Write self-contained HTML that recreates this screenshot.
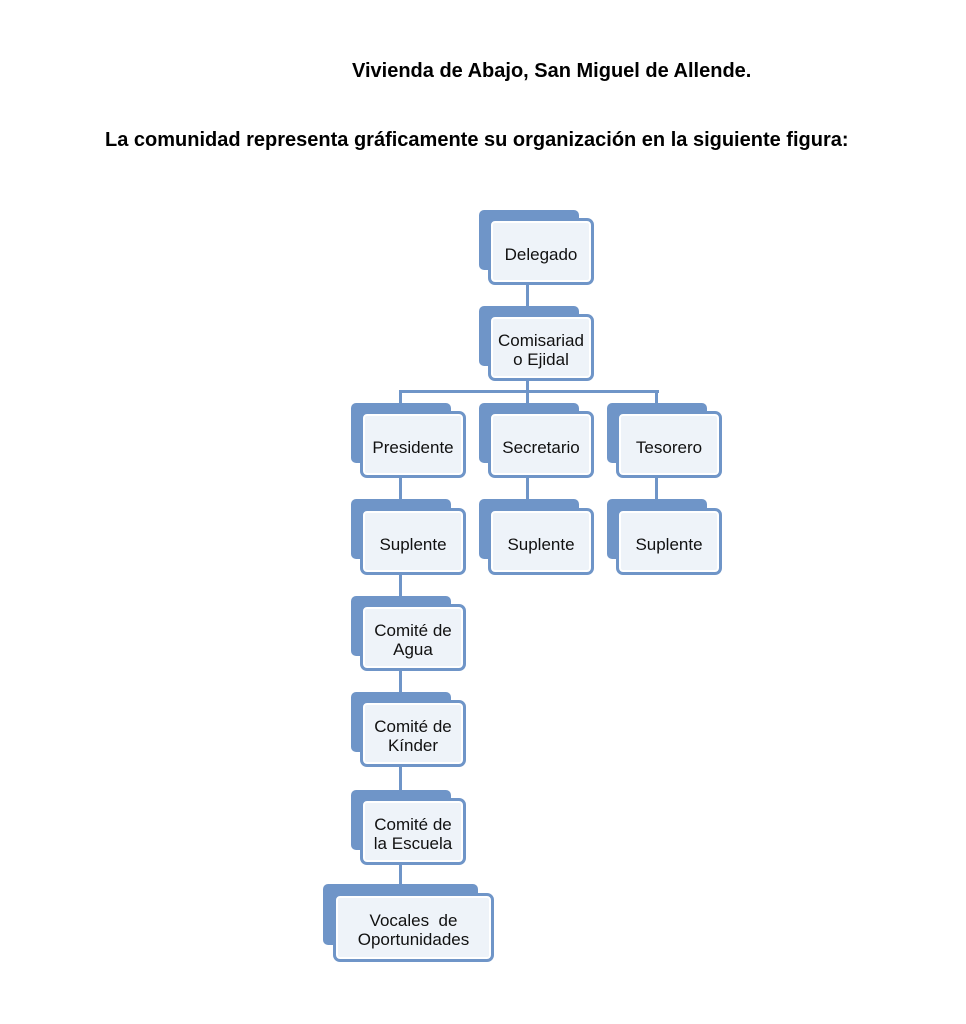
<!DOCTYPE html>
<html><head><meta charset="utf-8"><style>
body{margin:0;width:966px;height:1024px;background:#fff;position:relative;font-family:"Liberation Sans",Arial,sans-serif;overflow:hidden}
.t{position:absolute;font-weight:bold;font-size:20px;color:#000;white-space:nowrap}
.b{position:absolute;background:#6f95c8;border-radius:5px}
.f{position:absolute;background:#eef3f9;border:3px solid #6f95c8;border-radius:7px;box-sizing:border-box;display:flex;align-items:center;justify-content:center;text-align:center;font-size:17px;line-height:19px;color:#111;box-shadow:inset 0 0 0 2px #fff;padding-top:5px}
.l{position:absolute;background:#6f95c8}
</style></head><body>
<div class="t" style="left:352px;top:60px">Vivienda de Abajo, San Miguel de Allende.</div>
<div class="t" style="left:105px;top:129px">La comunidad representa gráficamente su organización en la siguiente figura:</div>

<div class="l" style="left:526px;top:284px;width:3px;height:32px"></div>
<div class="l" style="left:526px;top:380px;width:3px;height:12px"></div>
<div class="l" style="left:399px;top:390px;width:260px;height:3px"></div>
<div class="l" style="left:399px;top:390px;width:3px;height:22px"></div>
<div class="l" style="left:526px;top:390px;width:3px;height:22px"></div>
<div class="l" style="left:655px;top:390px;width:3px;height:22px"></div>
<div class="l" style="left:399px;top:477px;width:3px;height:420px"></div>
<div class="l" style="left:526px;top:477px;width:3px;height:30px"></div>
<div class="l" style="left:655px;top:477px;width:3px;height:30px"></div>

<div class="b" style="left:479px;top:210px;width:100px;height:60px"></div>
<div class="f" style="left:488px;top:218px;width:106px;height:67px">Delegado</div>
<div class="b" style="left:479px;top:306px;width:100px;height:60px"></div>
<div class="f" style="left:488px;top:314px;width:106px;height:67px">Comisariad<br>o Ejidal</div>

<div class="b" style="left:351px;top:403px;width:100px;height:60px"></div>
<div class="f" style="left:360px;top:411px;width:106px;height:67px">Presidente</div>
<div class="b" style="left:479px;top:403px;width:100px;height:60px"></div>
<div class="f" style="left:488px;top:411px;width:106px;height:67px">Secretario</div>
<div class="b" style="left:607px;top:403px;width:100px;height:60px"></div>
<div class="f" style="left:616px;top:411px;width:106px;height:67px">Tesorero</div>

<div class="b" style="left:351px;top:499px;width:100px;height:60px"></div>
<div class="f" style="left:360px;top:508px;width:106px;height:67px">Suplente</div>
<div class="b" style="left:479px;top:499px;width:100px;height:60px"></div>
<div class="f" style="left:488px;top:508px;width:106px;height:67px">Suplente</div>
<div class="b" style="left:607px;top:499px;width:100px;height:60px"></div>
<div class="f" style="left:616px;top:508px;width:106px;height:67px">Suplente</div>

<div class="b" style="left:351px;top:596px;width:100px;height:60px"></div>
<div class="f" style="left:360px;top:604px;width:106px;height:67px">Comité de<br>Agua</div>
<div class="b" style="left:351px;top:692px;width:100px;height:60px"></div>
<div class="f" style="left:360px;top:700px;width:106px;height:67px">Comité de<br>Kínder</div>
<div class="b" style="left:351px;top:790px;width:100px;height:60px"></div>
<div class="f" style="left:360px;top:798px;width:106px;height:67px">Comité de<br>la Escuela</div>
<div class="b" style="left:323px;top:884px;width:155px;height:61px"></div>
<div class="f" style="left:333px;top:893px;width:161px;height:69px">Vocales &nbsp;de<br>Oportunidades</div>
</body></html>
